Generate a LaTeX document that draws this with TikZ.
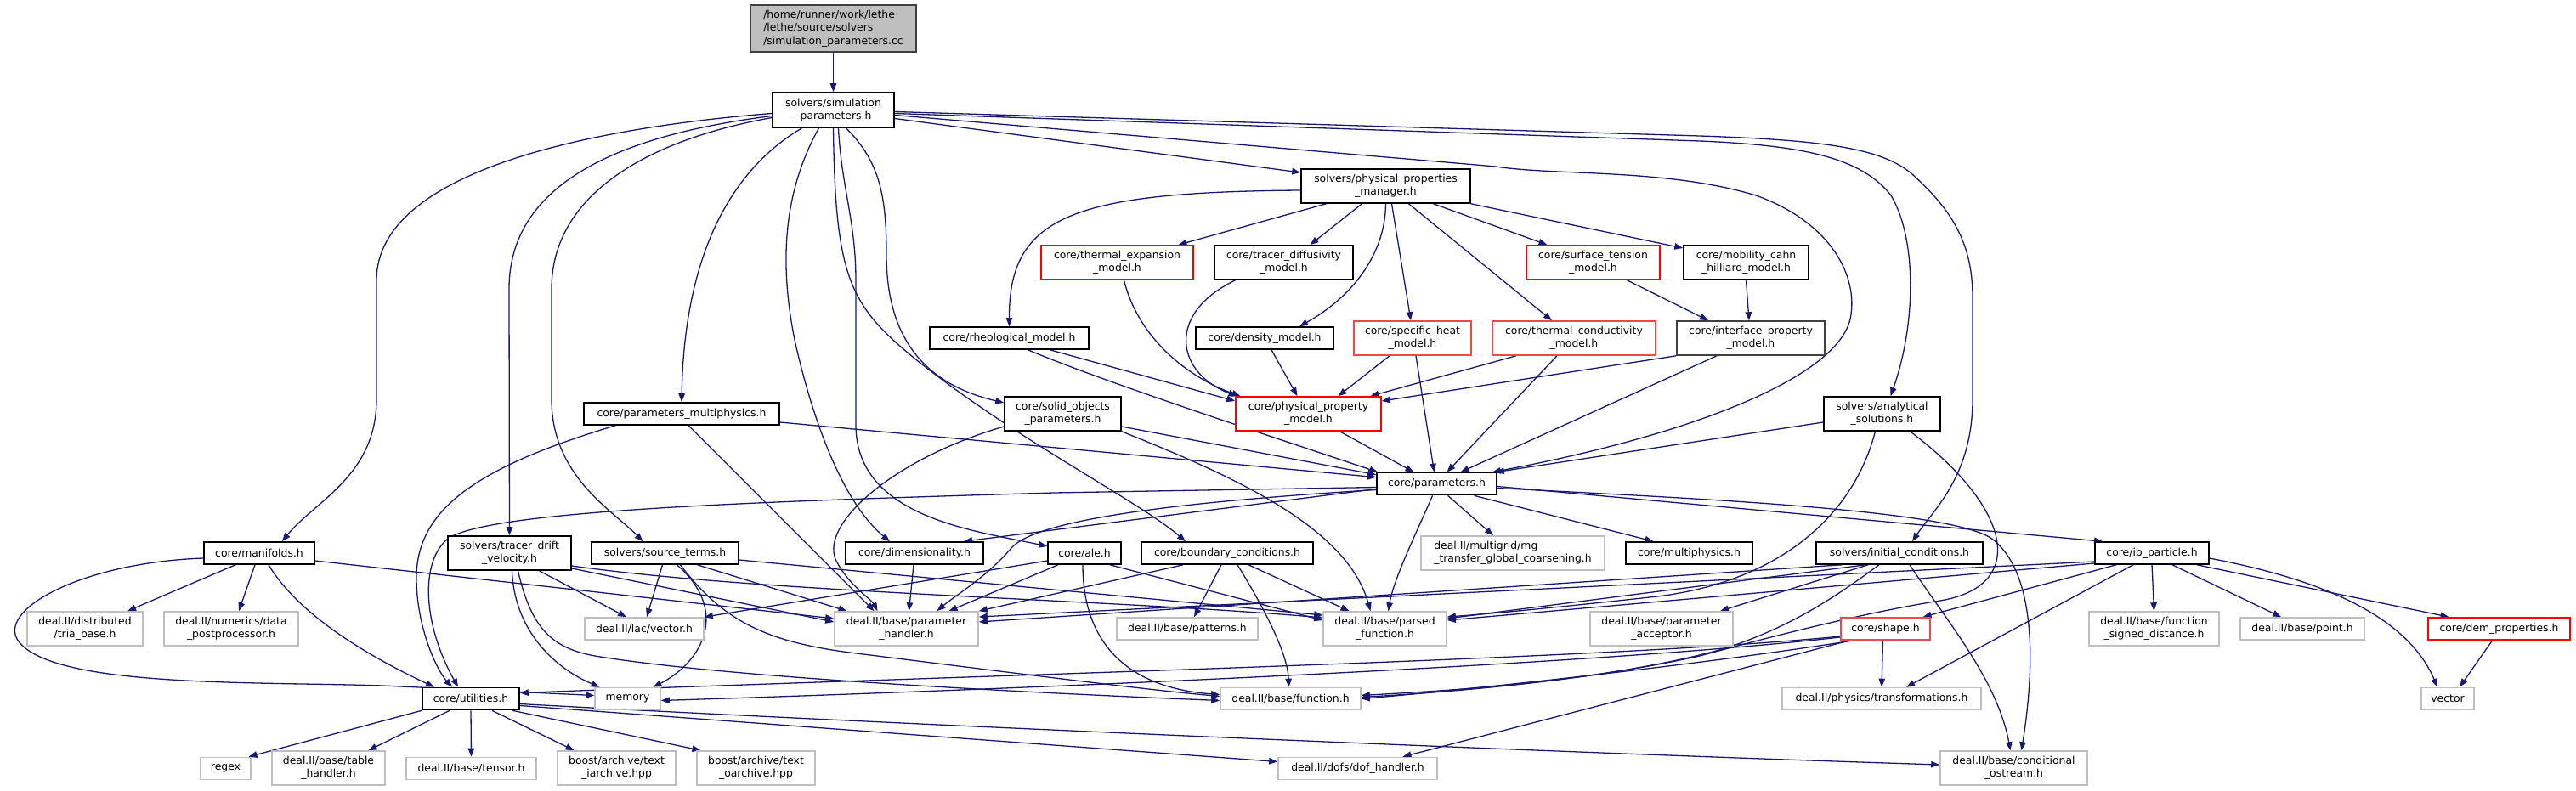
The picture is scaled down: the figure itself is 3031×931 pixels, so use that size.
\documentclass[tikz,border=0pt]{standalone}
\usepackage{fontspec}
\setmainfont{DejaVu Sans}
\usetikzlibrary{arrows.meta}
\definecolor{edgec}{HTML}{191970}
\definecolor{grayb}{HTML}{BFBFBF}
\definecolor{rootfill}{HTML}{BFBFBF}
\definecolor{darkb}{HTML}{404040}
\definecolor{redb}{HTML}{FF0000}
\definecolor{redl}{HTML}{F04848}
\pgfdeclarelayer{bg}
\pgfdeclarelayer{edges}
\pgfsetlayers{bg,edges,main}
\tikzset{
  nb/.style={draw=black, line width=1.6pt, fill=white, inner sep=0pt, align=center,
    font=\fontsize{12.4}{15.3}\selectfont},
  ng/.style={nb, draw=grayb},
  nr/.style={nb, draw=redb},
  nrl/.style={nb, draw=redl},
  ndk/.style={nb, draw=darkb},
  nroot/.style={nb, draw=darkb, fill=rootfill, align=left},
  e/.style={draw=edgec, line width=1.3pt, -{Triangle[length=10pt,width=7.5pt]}},
  sz/.style n args={2}{minimum width=#1pt, minimum height=#2pt},
}
\begin{document}
\begin{tikzpicture}[x=1pt,y=-1pt]
\begin{pgfonlayer}{bg}
\fill[white] (0,0) rectangle (3031,931);
\end{pgfonlayer}
\useasboundingbox (0,0) rectangle (3031,931);
% ---------------- nodes ----------------
\node[nroot, sz={195}{55}] (root) at (980.5,33.5) {/home/runner/work/lethe\\/lethe/source/solvers\\/simulation\_parameters.cc};
\node[nb, sz={143}{41}] (sp) at (980.5,129.5) {solvers/simulation\\\_parameters.h};
\node[nb, sz={199}{40}] (ppm) at (1630.5,219) {solvers/physical\_properties\\\_manager.h};
\node[nr, sz={179}{40}] (thexp) at (1314.5,309) {core/thermal\_expansion\\\_model.h};
\node[nb, sz={163}{40}] (tracer) at (1510.5,309) {core/tracer\_diffusivity\\\_model.h};
\node[nr, sz={157}{40}] (surft) at (1874.5,309) {core/surface\_tension\\\_model.h};
\node[nb, sz={147}{40}] (mob) at (2054.5,309) {core/mobility\_cahn\\\_hilliard\_model.h};
\node[nb, sz={187}{26}] (rheo) at (1187.5,398) {core/rheological\_model.h};
\node[nb, sz={162}{26}] (dens) at (1488,398) {core/density\_model.h};
\node[nrl, sz={138}{40}] (spheat) at (1662,398) {core/specific\_heat\\\_model.h};
\node[nrl, sz={192}{40}] (thcond) at (1852,398) {core/thermal\_conductivity\\\_model.h};
\node[ndk, sz={174}{40}] (iface) at (2060,398) {core/interface\_property\\\_model.h};
\node[nr, sz={171}{40}] (ppmodel) at (1539.5,487) {core/physical\_property\\\_model.h};
\node[nb, sz={137}{40}] (solid) at (1250.5,487) {core/solid\_objects\\\_parameters.h};
\node[nb, sz={230}{26}] (pmulti) at (802,487) {core/parameters\_multiphysics.h};
\node[nb, sz={137}{40}] (anal) at (2214.5,487) {solvers/analytical\\\_solutions.h};
\node[nb, sz={141}{26}] (params) at (1690.5,569.5) {core/parameters.h};
\node[nb, sz={130}{26}] (manif) at (305,651) {core/manifolds.h};
\node[nb, sz={145}{40}] (tdrift) at (599.5,651) {solvers/tracer\_drift\\\_velocity.h};
\node[nb, sz={173}{26}] (srcterm) at (782.5,651) {solvers/source\_terms.h};
\node[nb, sz={162}{26}] (dim) at (1076,651) {core/dimensionality.h};
\node[nb, sz={86}{26}] (ale) at (1276,651) {core/ale.h};
\node[nb, sz={202}{26}] (bc) at (1444,651) {core/boundary\_conditions.h};
\node[ng, sz={216}{40}, align=left] (mg) at (1780,651) {deal.II/multigrid/mg\\\_transfer\_global\_coarsening.h};
\node[nb, sz={149}{26}] (multiph) at (1987.5,651) {core/multiphysics.h};
\node[nb, sz={196}{26}] (init) at (2235,651) {solvers/initial\_conditions.h};
\node[nb, sz={134}{26}] (ib) at (2532,651) {core/ib\_particle.h};
\node[ng, sz={136}{40}] (tria) at (100,740) {deal.II/distributed\\/tria\_base.h};
\node[ng, sz={158}{40}] (dpp) at (272,740) {deal.II/numerics/data\\\_postprocessor.h};
\node[ng, sz={140}{26}] (vec) at (758,740) {deal.II/lac/vector.h};
\node[ng, sz={169}{40}] (ph) at (1066.5,740) {deal.II/base/parameter\\\_handler.h};
\node[ng, sz={166}{26}] (patt) at (1397,740) {deal.II/base/patterns.h};
\node[ng, sz={145}{40}] (pf) at (1629.5,740) {deal.II/base/parsed\\\_function.h};
\node[ng, sz={168}{40}] (pa) at (1955,740) {deal.II/base/parameter\\\_acceptor.h};
\node[nrl, sz={105}{26}] (shape) at (2218.5,740) {core/shape.h};
\node[ng, sz={153}{40}] (fsd) at (2534.5,740) {deal.II/base/function\\\_signed\_distance.h};
\node[ng, sz={146}{26}] (point) at (2709,740) {deal.II/base/point.h};
\node[nr, sz={167}{26}] (dem) at (2940.5,740) {core/dem\_properties.h};
\node[nb, sz={114}{26}] (util) at (554,822.5) {core/utilities.h};
\node[ng, sz={77}{26}] (mem) at (738.5,822.5) {memory};
\node[ng, sz={165}{26}] (func) at (1518.5,822.5) {deal.II/base/function.h};
\node[ng, sz={234}{26}] (trans) at (2214,822.5) {deal.II/physics/transformations.h};
\node[ng, sz={62}{26}] (vector) at (2880,822.5) {vector};
\node[ng, sz={59}{26}] (regex) at (265.5,904.5) {regex};
\node[ng, sz={133}{40}] (table) at (386.5,904) {deal.II/base/table\\\_handler.h};
\node[ng, sz={153}{26}] (tensor) at (554.5,904.5) {deal.II/base/tensor.h};
\node[ng, sz={139}{40}] (iarch) at (725.5,904) {boost/archive/text\\\_iarchive.hpp};
\node[ng, sz={139}{40}] (oarch) at (889.5,904) {boost/archive/text\\\_oarchive.hpp};
\node[ng, sz={187}{26}] (dof) at (1597.5,904.5) {deal.II/dofs/dof\_handler.h};
\node[ng, sz={173}{40}] (cond) at (2369.5,904) {deal.II/base/conditional\\\_ostream.h};
% ---------------- edges ----------------
\begin{pgfonlayer}{edges}
\draw[e] (root) -- (sp);
% simulation_parameters.h
\draw[e] ([yshift=-4pt]sp.west) .. controls (700,150) and (443,200) .. (443,330) -- (443,470) .. controls (443,560) and (370,590) .. ([xshift=27pt]manif.north);
\draw[e] ([yshift=-7pt]sp.west) .. controls (720,160) and (599,220) .. (599,340) -- (tdrift.north);
\draw[e] ([yshift=-9pt]sp.west) .. controls (760,165) and (649,230) .. (649,340) -- (649,470) .. controls (649,560) and (720,600) .. ([xshift=-26pt]srcterm.north);
\draw[e] ([xshift=-37pt]sp.south) .. controls (860,200) and (805,300) .. (pmulti.north);
\draw[e] ([xshift=-17pt]sp.south) .. controls (925,220) and (915,300) .. (935,400) .. controls (955,490) and (990,590) .. ([xshift=-29pt]dim.north);
\draw[e] ([xshift=6pt]sp.south) .. controls (990,220) and (1007,260) .. (1007,330) -- (1007,500) .. controls (1007,610) and (1150,625) .. ([yshift=8pt]ale.west);
\draw[e] (sp.south) .. controls (983,330) and (1000,360) .. (1080,425) .. controls (1200,520) and (1340,590) .. ([xshift=-49pt]bc.north);
\draw[e] ([xshift=15pt]sp.south) .. controls (1035,190) and (1043,230) .. (1043,300) .. controls (1043,410) and (1100,455) .. ([yshift=13pt]solid.west);
\draw[e] ([yshift=-10pt]sp.east) -- ([yshift=16pt]ppm.west);
\draw[e] ([yshift=-4pt]sp.east) -- (2000,166) .. controls (2120,171) and (2190,185) .. (2225,230) .. controls (2255,280) and (2255,380) .. ([xshift=10pt]anal.north);
\draw[e] ([yshift=-2pt]sp.east) -- (2000,160) .. controls (2150,165) and (2215,175) .. (2250,205) .. controls (2300,250) and (2321,290) .. (2321,350) -- (2321,470) .. controls (2321,560) and (2275,600) .. ([xshift=15pt]init.north);
\draw[e] ([yshift=-6pt]sp.east) -- (1760,196) .. controls (1830,207) and (1960,198) .. (2066,230) .. controls (2150,260) and (2185,320) .. (2178,370) .. controls (2170,440) and (2000,510) .. ([xshift=-6pt]params.north east);
% physical_properties_manager.h
\draw[e] ([yshift=-5pt]ppm.west) .. controls (1260,226) and (1187,255) .. (rheo.north);
\draw[e] ([xshift=-70pt]ppm.south) -- ([xshift=72pt]thexp.north);
\draw[e] ([xshift=-28pt]ppm.south) -- ([xshift=31pt]tracer.north);
\draw[e] (ppm.south) .. controls (1630,300) and (1590,350) .. ([xshift=41pt]dens.north);
\draw[e] ([xshift=7pt]ppm.south) -- ([xshift=-2pt]spheat.north);
\draw[e] ([xshift=27pt]ppm.south) -- ([xshift=-26pt]thcond.north);
\draw[e] ([xshift=56pt]ppm.south) -- ([xshift=-54pt]surft.north);
\draw[e] (ppm.south east) -- ([yshift=17pt]mob.west);
% property models
\draw[e] ([xshift=8pt]thexp.south) .. controls (1340,400) and (1400,445) .. ([xshift=-80pt]ppmodel.north);
\draw[e] ([xshift=-57pt]tracer.south) .. controls (1370,370) and (1385,440) .. ([xshift=-84pt]ppmodel.north);
\draw[e] ([xshift=8pt]dens.south) -- ([xshift=-13pt]ppmodel.north);
\draw[e] ([xshift=48pt]rheo.south) -- ([yshift=15pt]ppmodel.west);
\draw[e] ([xshift=-27pt]spheat.south) -- ([xshift=35pt]ppmodel.north);
\draw[e] ([xshift=-68pt]thcond.south) -- ([xshift=73pt]ppmodel.north);
\draw[e] (iface.south west) -- ([yshift=15pt]ppmodel.east);
\draw[e] ([xshift=40pt]surft.south) -- ([xshift=-50pt]iface.north);
\draw[e] (mob.south) -- ([xshift=-2pt]iface.north);
\draw[e] ([xshift=22pt]rheo.south) .. controls (1300,450) and (1500,515) .. ([xshift=2pt]params.north west);
\draw[e] ([xshift=37pt]ppmodel.south) -- ([xshift=-27pt]params.north);
\draw[e] ([xshift=4pt]spheat.south) -- ([xshift=-3pt]params.north);
\draw[e] ([xshift=-20pt]thcond.south) -- ([xshift=12pt]params.north);
\draw[e] ([xshift=-40pt]iface.south) -- ([xshift=28pt]params.north);
\draw[e] ([yshift=-15pt]solid.east) -- ([yshift=-3pt]params.north west);
\draw[e] ([yshift=-10pt]pmulti.east) -- ([yshift=-6pt]params.north west);
\draw[e] ([yshift=-10pt]anal.west) -- ([xshift=-2pt]params.north east);
% parameters.h
\draw[e] ([yshift=-4pt]params.west) -- (1240,580) .. controls (900,590) and (590,600) .. (530,632) .. controls (495,655) and (495,730) .. ([xshift=-15pt]util.north);
\draw[e] ([yshift=-6pt]params.west) -- ([xshift=58pt]dim.north);
\draw[e] ([yshift=-7pt]params.west) .. controls (1400,590) and (1220,610) .. (1190,645) .. controls (1160,680) and (1125,700) .. ([xshift=36pt]ph.north);
\draw[e] ([xshift=-5pt]params.south) .. controls (1670,620) and (1640,680) .. ([xshift=4pt]pf.north);
\draw[e] ([xshift=13pt]params.south) -- ([xshift=-23pt]mg.north);
\draw[e] ([xshift=44pt]params.south) -- ([xshift=-42pt]multiph.north);
\draw[e] ([yshift=-3pt]params.east) -- ([xshift=-58pt]ib.north);
\draw[e] ([yshift=-5pt]params.east) .. controls (2000,587) and (2300,600) .. (2345,635) .. controls (2395,675) and (2395,780) .. ([xshift=9pt]cond.north);
% manifolds.h
\draw[e] ([xshift=-28pt]manif.south) -- ([xshift=50pt]tria.north);
\draw[e] ([xshift=-5pt]manif.south) -- ([xshift=9pt]dpp.north);
\draw[e] ([xshift=11pt]manif.south) .. controls (355,730) and (450,780) .. ([xshift=-43pt]util.north);
\draw[e] ([yshift=-6pt]manif.west) .. controls (100,662) and (0,715) .. (20,752) .. controls (55,810) and (300,802) .. (450,807) -- ([yshift=4pt]mem.west);
\draw[e] ([yshift=-9pt]manif.east) -- ([yshift=12pt]ph.west);
% parameters_multiphysics.h
\draw[e] ([xshift=-78pt]pmulti.south) .. controls (560,550) and (490,600) .. (490,680) .. controls (490,740) and (515,790) .. ([xshift=-22pt]util.north);
\draw[e] ([xshift=8pt]pmulti.south) -- ([xshift=-38pt]ph.north);
% tracer_drift_velocity.h
\draw[e] ([xshift=35pt]tdrift.south) -- ([xshift=-21pt]vec.north);
\draw[e] ([xshift=3pt]tdrift.south) .. controls (605,740) and (650,785) .. ([xshift=-33pt]mem.north);
\draw[e] ([xshift=10pt]tdrift.south) .. controls (625,740) and (650,763) .. (700,772) .. controls (850,797) and (1200,815) .. ([yshift=-2pt]func.west);
\draw[e] ([yshift=-18pt]tdrift.east) -- ([yshift=8pt]ph.west);
\draw[e] ([yshift=-15pt]tdrift.east) .. controls (900,698) and (1300,705) .. ([yshift=13pt]pf.west);
% source_terms.h
\draw[e] ([xshift=-3pt]srcterm.south) -- ([xshift=3pt]vec.north);
\draw[e] ([xshift=14pt]srcterm.south) .. controls (860,720) and (825,780) .. ([xshift=30pt]mem.north);
\draw[e] ([xshift=18pt]srcterm.south) .. controls (850,730) and (900,755) .. (1000,768) .. controls (1200,793) and (1350,812) .. ([yshift=3pt]func.west);
\draw[e] ([xshift=38pt]srcterm.south) -- ([xshift=-70pt]ph.north);
\draw[e] ([yshift=-8pt]srcterm.east) -- ([yshift=16pt]pf.west);
% dimensionality.h
\draw[e] ([xshift=-1pt]dim.south) -- ([xshift=3pt]ph.north);
% ale.h
\draw[e] ([yshift=-9pt]ale.west) -- (vec.north east);
\draw[e] ([xshift=-31pt]ale.south) -- ([xshift=50pt]ph.north);
\draw[e] ([xshift=-2pt]ale.south) .. controls (1274,760) and (1330,810) .. ([yshift=5pt]func.west);
\draw[e] ([xshift=30pt]ale.south) -- ([yshift=10pt]pf.west);
% boundary_conditions.h
\draw[e] ([xshift=-52pt]bc.south) -- (ph.north east);
\draw[e] ([xshift=-7pt]bc.south) -- ([xshift=8pt]patt.north);
\draw[e] ([xshift=12pt]bc.south) .. controls (1490,720) and (1515,770) .. ([xshift=-2pt]func.north);
\draw[e] ([xshift=25pt]bc.south) -- ([xshift=-42pt]pf.north);
% solid_objects_parameters.h
\draw[e] (solid.south east) .. controls (1450,560) and (1585,620) .. ([xshift=-17pt]pf.north);
\draw[e] ([yshift=-15pt]solid.west) .. controls (1050,540) and (960,620) .. (985,662) .. controls (1000,690) and (1025,705) .. ([xshift=-34pt]ph.north);
% analytical_solutions.h
\draw[e] ([xshift=-8pt]anal.south) .. controls (2180,610) and (2090,685) .. (1950,702) .. controls (1850,713) and (1760,722) .. ([yshift=14pt]pf.east);
\draw[e] ([xshift=33pt]anal.south) .. controls (2370,600) and (2385,690) .. (2283,707) .. controls (2200,720) and (2100,745) .. (2000,772) .. controls (1850,805) and (1700,813) .. ([yshift=4pt]func.east);
% initial_conditions.h
\draw[e] ([xshift=-68pt]init.south) -- ([yshift=8pt]ph.east);
\draw[e] ([xshift=-40pt]init.south) -- ([yshift=12pt]pf.east);
\draw[e] ([xshift=-37pt]init.south) -- ([xshift=69pt]pa.north);
\draw[e] ([xshift=-24pt]init.south) .. controls (2150,710) and (2100,740) .. (2030,763) .. controls (1900,800) and (1700,815) .. ([yshift=2pt]func.east);
\draw[e] ([xshift=12pt]init.south) .. controls (2290,730) and (2350,800) .. ([xshift=-4pt]cond.north);
% ib_particle.h
\draw[e] ([yshift=-10pt]ib.west) -- ([yshift=14pt]ph.east);
\draw[e] ([yshift=-12pt]ib.west) -- ([yshift=10pt]pf.east);
\draw[e] ([xshift=-42pt]ib.south) -- ([xshift=44pt]shape.north);
\draw[e] ([xshift=-22pt]ib.south) -- ([xshift=29pt]trans.north);
\draw[e] (ib.south) -- (fsd.north);
\draw[e] ([xshift=24pt]ib.south) -- ([xshift=-25pt]point.north);
\draw[e] ([xshift=53pt]ib.south) -- ([xshift=-59pt]dem.north);
\draw[e] ([yshift=-6pt]ib.east) .. controls (2720,680) and (2830,720) .. ([xshift=-12pt]vector.north);
% shape.h
\draw[e] ([xshift=-3pt]shape.south) -- (trans.north);
\draw[e] ([yshift=-9pt]shape.west) .. controls (1900,775) and (1300,790) .. ([yshift=7pt]util.east);
\draw[e] ([yshift=-10pt]shape.west) .. controls (1900,780) and (1300,808) .. ([yshift=-2pt]mem.east);
\draw[e] ([xshift=-38pt]shape.south) .. controls (2050,775) and (1800,805) .. (func.east);
\draw[e] ([xshift=-42pt]shape.south) -- ([xshift=53pt]dof.north);
% dem_properties.h
\draw[e] ([xshift=-8pt]dem.south) -- ([xshift=14pt]vector.north);
% utilities.h
\draw[e] (util.south west) -- ([xshift=27pt]regex.north);
\draw[e] ([xshift=-25pt]util.south) -- ([xshift=47pt]table.north);
\draw[e] (util.south) -- (tensor.north);
\draw[e] ([xshift=25pt]util.south) -- ([xshift=-50pt]iarch.north);
\draw[e] ([xshift=49pt]util.south) -- ([xshift=-65pt]oarch.north);
\draw[e] ([yshift=-8pt]util.east) -- ([yshift=8pt]dof.west);
\draw[e] ([yshift=-6pt]util.east) .. controls (1000,850) and (1800,885) .. ([yshift=4pt]cond.west);
\end{pgfonlayer}
\end{tikzpicture}
\end{document}
